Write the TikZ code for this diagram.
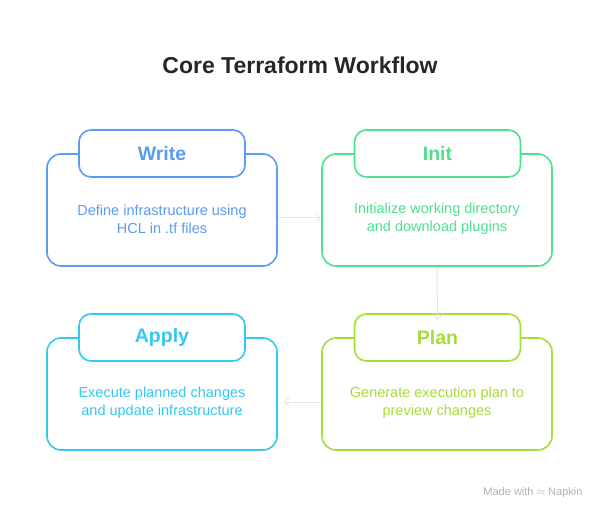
\documentclass[tikz,border=0pt]{standalone}
\usepackage{fontspec}
\setmainfont{Liberation Sans}
\usetikzlibrary{arrows.meta}
\definecolor{cblue}{HTML}{5B9BF5}
\definecolor{cgreen}{HTML}{4FE08F}
\definecolor{clime}{HTML}{A6DD3A}
\definecolor{ccyan}{HTML}{33C8F2}
\definecolor{carr}{HTML}{E6E6E6}
\begin{document}
\begin{tikzpicture}[x=1pt,y=-1pt,
  body/.style={draw=#1,line width=1.6pt,rounded corners=14pt,fill=white,minimum width=230pt,minimum height=112pt,inner sep=0pt},
  tab/.style={draw=#1,line width=1.6pt,rounded corners=12pt,fill=white,minimum width=166pt,minimum height=47pt,inner sep=0pt,text=#1,font=\bfseries\fontsize{19.5}{22}\selectfont},
  desc/.style={text=#1,font=\fontsize{14.5}{18}\selectfont,align=center},
  conn/.style={draw=carr,line width=1pt,-{Straight Barb[length=5pt,width=10pt]}}]
\useasboundingbox (0,0) rectangle (600,521);
\node[font=\bfseries\fontsize{23}{26}\selectfont,text=black!85] (title) at (300,65) {Core Terraform Workflow};
% Write
\node[body=cblue] (wb) at (162,210) {};
\node[tab=cblue] (wt) at (162,153.5) {Write};
\node[desc=cblue] (wd) at (162,219) {Define infrastructure using\\HCL in .tf files};
% Init
\node[body=cgreen] (ib) at (437,210) {};
\node[tab=cgreen] (it) at (437.5,153.5) {Init};
\node[desc=cgreen] (id) at (437,219) {Initialize working directory\\and download plugins};
% Plan
\node[body=clime] (pb) at (437,394) {};
\node[tab=clime] (pt) at (437.5,337.5) {Plan};
\node[desc=clime] (pd) at (437,403) {Generate execution plan to\\preview changes};
% Apply
\node[body=ccyan] (ab) at (162,394) {};
\node[tab=ccyan] (at) at (162,337.5) {Apply};
\node[desc=ccyan] (ad) at (162,403) {Execute planned changes\\and update infrastructure};
% arrows
\draw[conn] (wb.east |- 0,218) -- (ib.west |- 0,218);
\draw[conn] (ib.south) -- ([yshift=-7pt]pt.north);
\draw[conn] (pb.west |- 0,402) -- ([xshift=6pt]ab.east |- 0,402);
\node[text=black!30,font=\fontsize{11}{13}\selectfont,anchor=east] (mw) at (586,493) {Made with \(\approx\) Napkin};
\end{tikzpicture}
\end{document}
